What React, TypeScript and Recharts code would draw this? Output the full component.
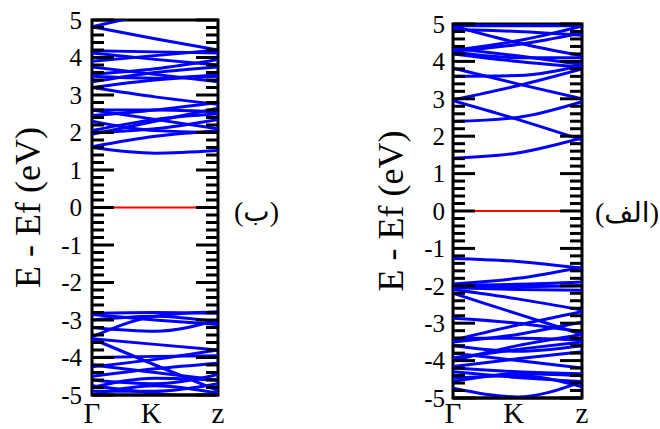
import { LineChart, Line, XAxis, YAxis, ReferenceArea } from 'recharts';

const SERIF = '"Liberation Serif", Tinos, "Times New Roman", "Noto Serif", "DejaVu Serif", serif';

// k-path: band values read at Γ, half way, z
const K_POS = [0, 0.5, 1];
const X_TICKS = [0, 0.47, 1];
const X_LABELS = ['Γ', 'K', 'z'];
// every 0.2 eV tick; integers get a label and a long tick
const Y_TICKS = [
  -5, -4.8, -4.6, -4.4, -4.2, -4, -3.8, -3.6, -3.4, -3.2, -3, -2.8, -2.6, -2.4, -2.2, -2, -1.8, -1.6, -1.4, -1.2,
  -1, -0.8, -0.6, -0.4, -0.2, 0, 0.2, 0.4, 0.6, 0.8, 1, 1.2, 1.4, 1.6, 1.8, 2, 2.2, 2.4, 2.6, 2.8, 3, 3.2, 3.4,
  3.6, 3.8, 4, 4.2, 4.4, 4.6, 4.8, 5,
];
const FERMI_K = [0.17, 0.83];
const FERMI_E = [0, 0];

// panel (ب)
const BANDS_B = [
  [4.82, 5.2, 5.6],
  [4.82, 4.5, 4.2],
  [4.18, 4.15, 4.12],
  [4.12, 3.95, 3.8],
  [3.9, 4.05, 4.2],
  [3.75, 3.55, 3.35],
  [3.55, 3.7, 3.95],
  [3.5, 3.45, 3.55],
  [3.35, 3.6, 3.75],
  [3.2, 3.4, 3.5],
  [3.2, 2.95, 2.75],
  [2.6, 2.6, 2.55],
  [2.6, 2.35, 2.1],
  [2.45, 2.6, 2.8],
  [2.3, 2.05, 2.0],
  [2.05, 2.35, 2.5],
  [2.0, 2.1, 2.35],
  [1.95, 2.3, 2.65],
  [1.6, 1.45, 1.52],
  [1.62, 1.9, 2.05],
  [-2.82, -2.8, -2.82],
  [-2.85, -3.0, -3.12],
  [-3.0, -2.9, -3.05],
  [-3.45, -2.9, -2.78],
  [-3.2, -3.3, -3.0],
  [-3.5, -3.65, -3.8],
  [-3.5, -4.2, -4.88],
  [-4.0, -3.97, -3.95],
  [-4.25, -4.05, -3.8],
  [-4.2, -4.4, -4.6],
  [-4.5, -4.3, -4.15],
  [-4.6, -4.7, -4.45],
  [-4.8, -4.55, -4.6],
  [-4.9, -4.9, -4.7],
  [-4.75, -4.95, -5.1],
  [-5.0, -4.75, -4.95],
];

// panel (الف)
const BANDS_ALEF = [
  [1.41, 1.55, 1.95],
  [2.39, 2.5, 2.92],
  [2.95, 2.45, 1.9],
  [2.97, 3.35, 3.8],
  [3.82, 3.4, 3.0],
  [3.6, 3.62, 3.9],
  [4.2, 4.0, 3.85],
  [4.25, 4.1, 4.1],
  [4.3, 4.55, 4.94],
  [4.27, 4.45, 4.76],
  [4.35, 4.15, 3.92],
  [4.95, 4.5, 4.15],
  [4.95, 4.95, 4.95],
  [4.85, 4.8, 4.7],
  [-1.27, -1.35, -1.53],
  [-1.95, -1.8, -1.5],
  [-1.98, -1.96, -1.9],
  [-2.0, -2.02, -2.0],
  [-2.05, -2.1, -2.12],
  [-2.1, -2.35, -2.65],
  [-2.2, -2.75, -3.3],
  [-2.87, -3.0, -3.23],
  [-3.45, -3.05, -2.69],
  [-3.4, -3.4, -3.45],
  [-3.5, -3.3, -2.97],
  [-3.6, -3.75, -3.6],
  [-3.93, -3.7, -3.5],
  [-4.0, -3.6, -3.3],
  [-4.16, -3.95, -3.76],
  [-3.8, -4.0, -4.2],
  [-4.3, -4.45, -4.56],
  [-4.56, -4.35, -4.4],
  [-4.47, -4.4, -4.7],
  [-4.74, -4.97, -4.56],
  [-4.2, -4.3, -4.35],
];

const toSeries = (ks: number[], es: number[]) => es.map((e, i) => ({ k: ks[i], e }));

type PanelProps = {
  bands: number[][];
  tag: string;
  left: number;
  plotLeft: number;
  plotRight: number;
  top: number;
  bottom: number;
  titleX: number;
  tickGap: number;
  xGap: number;
  tagX: number;
  tagY: number;
};

const Panel = ({ bands, tag, left, plotLeft, plotRight, top, bottom, titleX, tickGap, xGap, tagX, tagY }: PanelProps) => {
  const plotW = plotRight - plotLeft;

  // label plus inward tick marks on both frame sides
  const renderYTick = (props: any) => {
    const { x, y, payload } = props;
    const v = payload.value;
    const major = Number.isInteger(v);
    const len = major ? 22 : 12;
    const x0 = x + tickGap;
    return (
      <g>
        <line x1={x0} x2={x0 + len} y1={y} y2={y} stroke="#000" strokeWidth={3} />
        <line x1={x0 + plotW} x2={x0 + plotW - len} y1={y} y2={y} stroke="#000" strokeWidth={3} />
        {major && (
          <text x={x} y={y} dy="0.35em" textAnchor="end" fontSize={25} fill="#000" fontFamily={SERIF}>
            {v}
          </text>
        )}
      </g>
    );
  };

  return (
    <div style={{ position: 'absolute', left, top: 0, width: 330, height: 429 }}>
      <LineChart width={330} height={429} margin={{ top, right: 330 - plotRight, bottom, left: 0 }}>
        <ReferenceArea yAxisId="e" x1={0} x2={1} y1={-5} y2={5} fill="#fff" fillOpacity={0} stroke="#000" strokeWidth={3} />
        {bands.map((b, i) => (
          <Line
            key={i}
            yAxisId="e"
            data={toSeries(K_POS, b)}
            dataKey="e"
            type="monotone"
            stroke="#0000ff"
            strokeWidth={3}
            dot={false}
            isAnimationActive={false}
          />
        ))}
        <Line
          yAxisId="e"
          data={toSeries(FERMI_K, FERMI_E)}
          dataKey="e"
          stroke="#ff0000"
          strokeWidth={2}
          dot={false}
          isAnimationActive={false}
        />
        <XAxis
          type="number"
          dataKey="k"
          domain={[0, 1]}
          ticks={X_TICKS}
          interval={0}
          tickFormatter={(v: number) => X_LABELS[X_TICKS.indexOf(v)]}
          tickLine={false}
          tickSize={0}
          tickMargin={xGap}
          height={30}
          axisLine={{ stroke: '#000', strokeWidth: 3 }}
          tick={{ fontSize: 29, fill: '#000', fontFamily: SERIF }}
          allowDataOverflow
        />
        <YAxis
          yAxisId="e"
          type="number"
          domain={[-5, 5]}
          ticks={Y_TICKS}
          interval={0}
          width={plotLeft}
          tickLine={false}
          tickSize={0}
          tickMargin={tickGap}
          axisLine={false}
          allowDataOverflow
          tick={renderYTick}
          label={{
            value: 'E - Ef (eV)',
            angle: -90,
            position: 'insideLeft',
            offset: titleX,
            style: { textAnchor: 'middle', fontSize: 36, fill: '#000', fontFamily: SERIF },
          }}
        />
      </LineChart>
      <div
        style={{
          position: 'absolute',
          left: tagX,
          top: tagY,
          fontSize: 28,
          lineHeight: '32px',
          fontFamily: SERIF + ', "DejaVu Sans"',
          color: '#000',
          whiteSpace: 'nowrap',
        }}
      >
        {tag}
      </div>
    </div>
  );
};

export default function App() {
  return (
    <div style={{ position: 'relative', width: 660, height: 429, background: '#fff', fontFamily: SERIF }}>
      <style>{'body{margin:0}'}</style>
      <Panel bands={BANDS_B} tag="(ب)" left={0} plotLeft={92} plotRight={218} top={20} bottom={4} titleX={27} tickGap={10} xGap={7} tagX={234} tagY={196} />
      <Panel bands={BANDS_ALEF} tag="(الف)" left={330} plotLeft={123} plotRight={252} top={24} bottom={1} titleX={60} tickGap={8} xGap={4} tagX={265} tagY={197} />
    </div>
  );
}
